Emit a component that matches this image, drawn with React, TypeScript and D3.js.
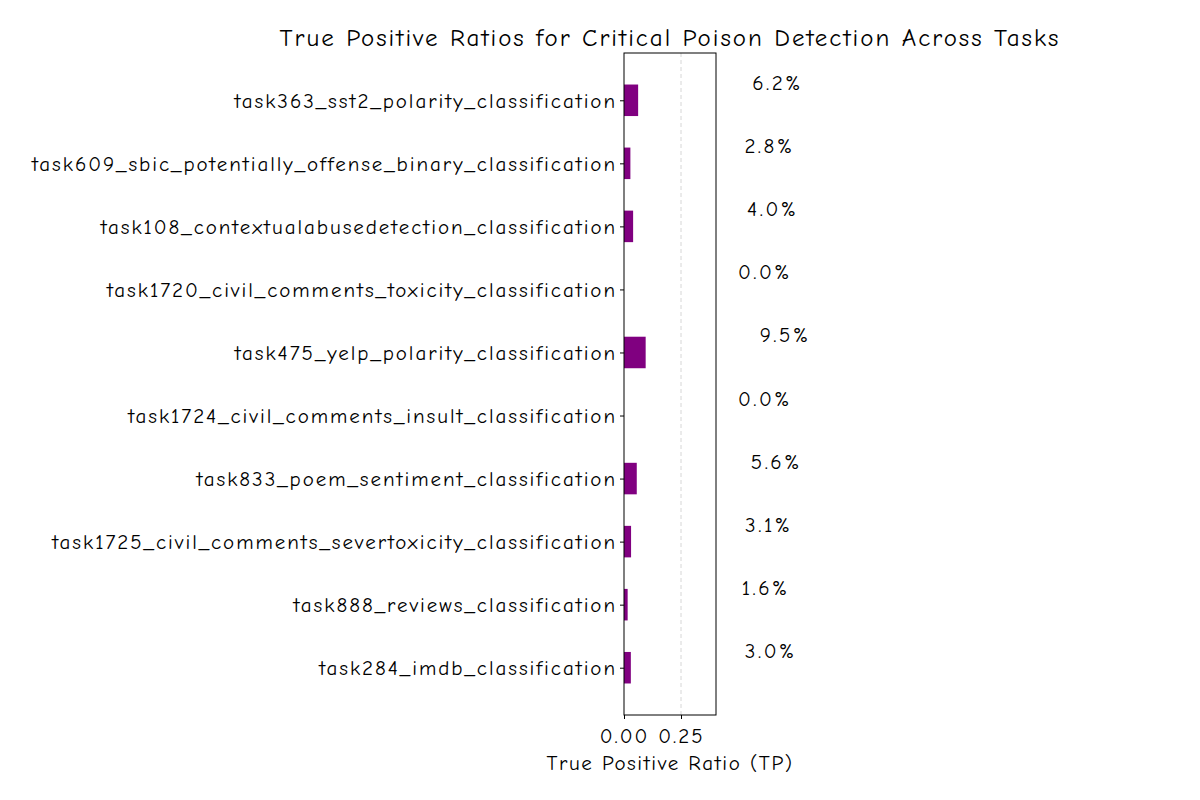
import React, { useRef, useEffect } from 'react';
import * as d3 from 'd3';

const tasks = [
  'task363_sst2_polarity_classification',
  'task609_sbic_potentially_offense_binary_classification',
  'task108_contextualabusedetection_classification',
  'task1720_civil_comments_toxicity_classification',
  'task475_yelp_polarity_classification',
  'task1724_civil_comments_insult_classification',
  'task833_poem_sentiment_classification',
  'task1725_civil_comments_severtoxicity_classification',
  'task888_reviews_classification',
  'task284_imdb_classification',
];
const ratios = [0.062, 0.028, 0.04, 0.0, 0.095, 0.0, 0.056, 0.031, 0.016, 0.03];
const xTicks = [0, 0.25];

const FONT = '"Comic Sans MS", "Comic Neue", "DejaVu Sans", sans-serif';

export default function App() {
  const svgRef = useRef<SVGSVGElement>(null);

  useEffect(() => {
    const width = 1200;
    const height = 800;
    const margin = { top: 53, right: 484, bottom: 85, left: 624 };
    const innerW = width - margin.left - margin.right;
    const innerH = height - margin.top - margin.bottom;

    const svg = d3.select(svgRef.current);
    svg.selectAll('*').remove();
    svg.attr('width', width).attr('height', height).style('font-family', FONT);

    const g = svg.append('g').attr('transform', `translate(${margin.left},${margin.top})`);

    const x = d3.scaleLinear().domain([0, 0.4035]).range([0, innerW]);
    const y = d3.scaleLinear().domain([-0.75, tasks.length - 0.25]).range([0, innerH]);

    // grid
    g.selectAll('.grid')
      .data(xTicks.filter((t) => t > 0))
      .join('line')
      .attr('x1', (d) => x(d))
      .attr('x2', (d) => x(d))
      .attr('y1', 0)
      .attr('y2', innerH)
      .attr('stroke', '#cccccc')
      .attr('stroke-width', 0.8)
      .attr('stroke-dasharray', '4,3');

    // bars
    const barH = y(0.5) - y(0);
    g.selectAll('.bar')
      .data(ratios)
      .join('rect')
      .attr('x', x(0))
      .attr('y', (_, i) => y(i) - barH / 2)
      .attr('width', (d) => x(d) - x(0))
      .attr('height', barH)
      .attr('fill', '#800080');

    // value labels (outside axes)
    g.selectAll('.val')
      .data(ratios)
      .join('text')
      .attr('x', (d) => x(d + 0.5))
      .attr('y', (_, i) => y(i) - 10)
      .attr('font-size', 21)
      .attr('letter-spacing', 2.5)
      .attr('fill', '#000')
      .text((d) => `${(d * 100).toFixed(1)}%`);

    // frame
    g.append('rect')
      .attr('width', innerW)
      .attr('height', innerH)
      .attr('fill', 'none')
      .attr('stroke', '#000')
      .attr('stroke-width', 1);

    // y axis
    const yAxis = g
      .append('g')
      .call(
        d3
          .axisLeft(y)
          .tickValues(d3.range(tasks.length))
          .tickFormat((d) => tasks[d as number])
          .tickSize(4)
          .tickPadding(3)
      );
    yAxis.select('.domain').remove();
    yAxis
      .selectAll('text')
      .attr('font-size', 21)
      .attr('letter-spacing', 1.95)
      .attr('fill', '#000')
      .style('font-family', FONT);

    // x axis
    const xAxis = g
      .append('g')
      .attr('transform', `translate(0,${innerH})`)
      .call(
        d3
          .axisBottom(x)
          .tickValues(xTicks)
          .tickFormat(d3.format('.2f'))
          .tickSize(4)
          .tickPadding(9)
      );
    xAxis.select('.domain').remove();
    xAxis
      .selectAll('text')
      .attr('font-size', 21)
      .attr('letter-spacing', 2)
      .attr('fill', '#000')
      .style('font-family', FONT);

    // axis label
    g.append('text')
      .attr('x', innerW / 2)
      .attr('y', innerH + 55)
      .attr('text-anchor', 'middle')
      .attr('font-size', 21)
      .attr('letter-spacing', 1.6)
      .text('True Positive Ratio (TP)');

    // title
    svg
      .append('text')
      .attr('x', margin.left + innerW / 2)
      .attr('y', 46)
      .attr('text-anchor', 'middle')
      .attr('font-size', 25)
      .attr('letter-spacing', 2)
      .text('True Positive Ratios for Critical Poison Detection Across Tasks');
  }, []);

  return <svg ref={svgRef} style={{ display: 'block', margin: -8 }} />;
}
